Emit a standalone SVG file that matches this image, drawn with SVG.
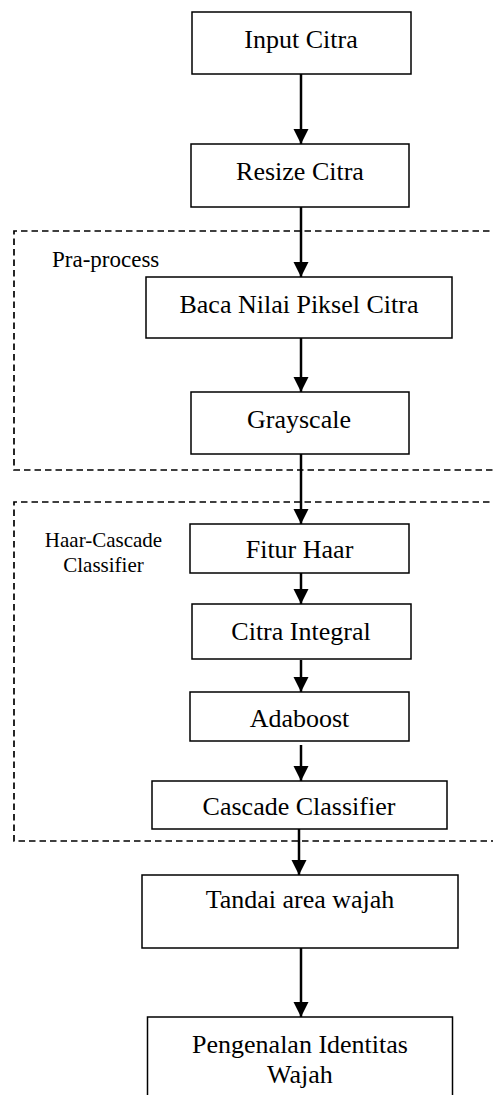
<svg xmlns="http://www.w3.org/2000/svg" width="493" height="1095" viewBox="0 0 493 1095">
<style>
.box{fill:#fff;stroke:#000;stroke-width:1.5}
.t{font-family:"Liberation Serif","Times New Roman",serif;font-size:26px;fill:#000;text-anchor:middle}
.lbl{font-family:"Liberation Serif","Times New Roman",serif;fill:#000}
.grp{fill:none;stroke:#000;stroke-width:1.7;stroke-dasharray:6.5 4}
.c{stroke:#000;stroke-width:2.5;fill:none;marker-end:url(#ah)}
</style>
<defs>
<marker id="ah" markerUnits="userSpaceOnUse" markerWidth="16" markerHeight="16" refX="15" refY="7.5" orient="auto">
<path d="M0,0 L15,7.5 L0,15 z" fill="#000"/>
</marker>
</defs>
<rect width="493" height="1095" fill="#fff"/>
<g id="groups">
<path class="grp" d="M500,231 H14 V470 H500"/>
<text class="lbl" x="52" y="267" font-size="23">Pra-process</text>
<path class="grp" d="M500,502 H14 V841 H500"/>
<text class="lbl" x="103.5" y="547" font-size="21" text-anchor="middle">Haar-Cascade</text>
<text class="lbl" x="103.5" y="572" font-size="21" text-anchor="middle">Classifier</text>
</g>
<g id="connectors">
<line class="c" x1="301" y1="74" x2="301" y2="144"/>
<line class="c" x1="301" y1="207" x2="301" y2="277"/>
<line class="c" x1="301" y1="338" x2="301" y2="392"/>
<line class="c" x1="301" y1="454" x2="301" y2="524"/>
<line class="c" x1="301" y1="573" x2="301" y2="604"/>
<line class="c" x1="301" y1="660" x2="301" y2="692"/>
<line class="c" x1="301" y1="745" x2="301" y2="781"/>
<line class="c" x1="299" y1="829" x2="299" y2="875"/>
<line class="c" x1="301" y1="946" x2="301" y2="1017"/>
</g>
<g id="n1"><rect class="box" x="192" y="12" width="219" height="62"/><text class="t" x="301" y="48">Input Citra</text></g>
<g id="n2"><rect class="box" x="191" y="144" width="218" height="63"/><text class="t" x="300" y="180">Resize Citra</text></g>
<g id="n3"><rect class="box" x="146" y="277" width="306" height="61"/><text class="t" x="299" y="313">Baca Nilai Piksel Citra</text></g>
<g id="n4"><rect class="box" x="191" y="392" width="218" height="62"/><text class="t" x="299" y="428">Grayscale</text></g>
<g id="n5"><rect class="box" x="190" y="524" width="219" height="49"/><text class="t" x="299.5" y="558">Fitur Haar</text></g>
<g id="n6"><rect class="box" x="192" y="604" width="219" height="55"/><text class="t" x="301" y="640">Citra Integral</text></g>
<g id="n7"><rect class="box" x="190" y="692" width="219" height="49"/><text class="t" x="299.5" y="727">Adaboost</text></g>
<g id="n8"><rect class="box" x="152" y="781" width="295" height="48"/><text class="t" x="299" y="815" font-size="27">Cascade Classifier</text></g>
<g id="n9"><rect class="box" x="142" y="875" width="316" height="73"/><text class="t" x="300" y="908" font-size="24">Tandai area wajah</text></g>
<g id="n10"><rect class="box" x="147.5" y="1017" width="305" height="100"/><text class="t" x="300" y="1053" font-size="25">Pengenalan Identitas</text><text class="t" x="300" y="1083" font-size="25">Wajah</text></g>
</svg>
